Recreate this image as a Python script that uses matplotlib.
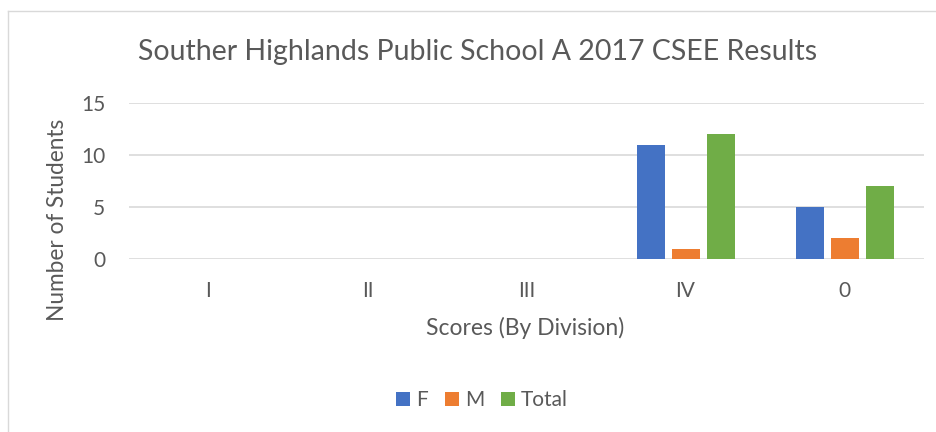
import matplotlib
matplotlib.use("Agg")
import matplotlib.pyplot as plt
import numpy as np

categories = ["I", "II", "III", "IV", "0"]
f_vals = [0, 0, 0, 11, 5]
m_vals = [0, 0, 0, 1, 2]
total_vals = [0, 0, 0, 12, 7]

plt.rcParams['font.family'] = ['Lato', 'DejaVu Sans']
txt = '#595959'

fig = plt.figure(figsize=(9.37, 4.32), dpi=100)
W, H = 937, 432
ax = fig.add_axes([129 / W, 1 - 259 / H, (924 - 129) / W, (259 - 103) / H])

x = np.arange(len(categories))
bw = 28 / 159
off = 35 / 159
colors = ['#4472C4', '#ED7D31', '#70AD47']
for vals, o, c, lab in [(f_vals, -off, colors[0], 'F'), (m_vals, 0, colors[1], 'M'), (total_vals, off, colors[2], 'Total')]:
    ax.bar(x + o, vals, width=bw, color=c, label=lab, zorder=3)

ax.set_xlim(-0.5, len(categories) - 0.5)
ax.set_ylim(0, 15)
ax.set_yticks([0, 5, 10, 15])
ax.set_xticks(x)
ax.set_xticklabels(categories)
ax.grid(axis='y', color='#D9D9D9', linewidth=1.2, zorder=0)
for s in ax.spines.values():
    s.set_visible(False)
ax.tick_params(axis='both', length=0, labelsize=15, labelcolor=txt)
ax.tick_params(axis='x', pad=16)
ax.tick_params(axis='y', pad=17)

ax.set_xlabel("Scores (By Division)", fontsize=16.5, color=txt)
ax.set_ylabel("Number of Students", fontsize=16.3, color=txt)
ax.xaxis.set_label_coords((525 - 129) / 795, (259 - 328) / 156)
ax.yaxis.set_label_coords((58 - 129) / 795, (259 - 220) / 156)
ax.xaxis.label.set_va('center')
ax.yaxis.label.set_va('center')
fig.text(478 / W, 1 - 52 / H, "Souther Highlands Public School A 2017 CSEE Results",
         ha='center', va='center', fontsize=20.5, color=txt)

handles, labels = ax.get_legend_handles_labels()
fig.legend(handles, labels, loc='center', bbox_to_anchor=(482 / W, 1 - 400 / H), ncol=3, frameon=False,
           fontsize=15, labelcolor=txt, handlelength=0.67, handleheight=0.67, handletextpad=0.3, columnspacing=0.8)

# chart border (left and top visible)
fig.add_artist(plt.Line2D([8 / W, 8 / W], [0, 1 - 11 / H], color='#D9D9D9', linewidth=1, transform=fig.transFigure))
fig.add_artist(plt.Line2D([8 / W, 1], [1 - 11 / H, 1 - 11 / H], color='#D9D9D9', linewidth=1, transform=fig.transFigure))

fig.savefig("out.png", dpi=100)
